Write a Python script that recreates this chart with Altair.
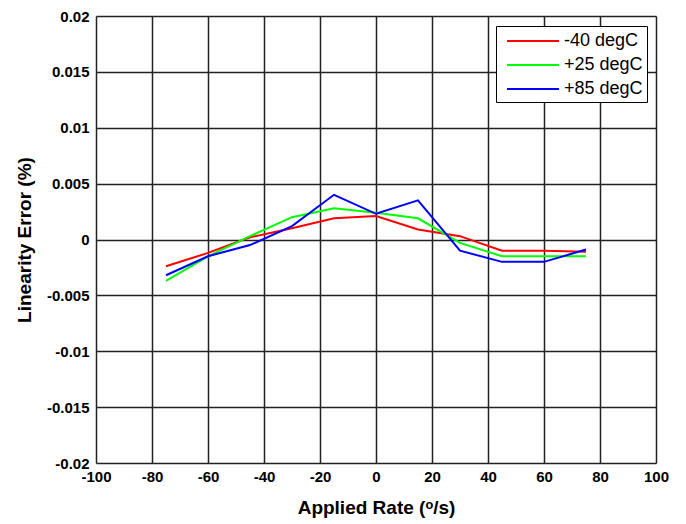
import altair as alt
import pandas as pd

rates = [-75, -60, -45, -30, -15, 0, 15, 30, 45, 60, 75]
err_m40 = [-0.0024, -0.0012, 0.0002, 0.0010, 0.0019, 0.0021, 0.0009, 0.0003, -0.0010, -0.0010, -0.0011]
err_p25 = [-0.0037, -0.0015, 0.0003, 0.0020, 0.0028, 0.0024, 0.0019, -0.0003, -0.0015, -0.0015, -0.0015]
err_p85 = [-0.0032, -0.0015, -0.0005, 0.0012, 0.0040, 0.0023, 0.0035, -0.0010, -0.0020, -0.0020, -0.0009]
series = ["-40 degC", "+25 degC", "+85 degC"]
colors = ["#ff0000", "#00ff00", "#0000ff"]

rows = []
for name, vals in zip(series, [err_m40, err_p25, err_p85]):
    for r, v in zip(rates, vals):
        rows.append({"rate": r, "err": v, "series": name})
df = pd.DataFrame(rows)

font = "Liberation Sans"
hyphen = "replace(datum.label, '\u2212', '-')"

chart = alt.Chart(df).mark_line(strokeWidth=2).encode(
    x=alt.X("rate:Q", scale=alt.Scale(domain=[-100, 100], nice=False),
            axis=alt.Axis(values=list(range(-100, 101, 20)), title="Applied Rate (ᵒ/s)",
                          labelExpr=hyphen,
                          grid=True, gridColor="#222222", gridWidth=1.5, gridOpacity=1,
                          domain=False, ticks=False, labelPadding=6,
                          labelFont=font, labelFontSize=15, labelFontWeight="bold", labelColor="black",
                          titleFont=font, titleFontSize=19, titleFontWeight="bold", titleColor="black",
                          titlePadding=14, labelFlush=False)),
    y=alt.Y("err:Q", scale=alt.Scale(domain=[-0.02, 0.02], nice=False),
            axis=alt.Axis(values=[-0.02, -0.015, -0.01, -0.005, 0, 0.005, 0.01, 0.015, 0.02],
                          format="~g", labelExpr=hyphen, title="Linearity Error (%)",
                          grid=True, gridColor="#222222", gridWidth=1.5, gridOpacity=1,
                          domain=False, ticks=False, labelPadding=7,
                          labelFont=font, labelFontSize=15, labelFontWeight="bold", labelColor="black",
                          titleFont=font, titleFontSize=19, titleFontWeight="bold", titleColor="black",
                          titlePadding=12, labelFlush=False)),
    color=alt.Color("series:N", sort=series,
                    scale=alt.Scale(domain=series, range=colors),
                    legend=alt.Legend(title=None, orient="none", legendX=400, legendY=10,
                                      symbolType="M-2.6,0H2.6", symbolSize=400, symbolStrokeWidth=2,
                                      symbolOffset=22, labelExpr="datum.label + '  '",
                                      labelFont=font, labelFontSize=18, labelFontWeight="normal",
                                      labelColor="black", strokeColor="black", fillColor="white",
                                      padding=4, rowPadding=4, labelOffset=20)),
).properties(
    width=560, height=447,
    autosize=alt.AutoSizeParams(type="none"),
    padding={"left": 88, "top": 8, "right": 22, "bottom": 62},
).configure_view(stroke="black", strokeWidth=1.5).configure(background="white")

chart.save("out.html", embed_options={"renderer": "svg", "actions": False})
